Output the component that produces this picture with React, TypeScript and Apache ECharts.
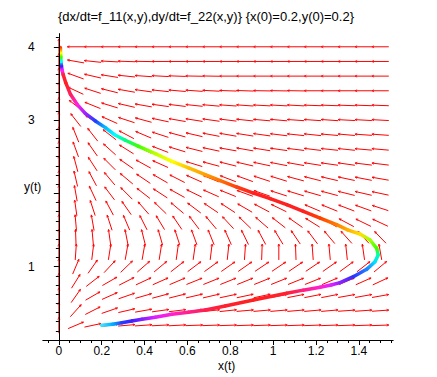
import React, { useEffect, useRef } from "react";
import * as echarts from "echarts";

const titleText = "{dx/dt=f_11(x,y),dy/dt=f_22(x,y)} {x(0)=0.2,y(0)=0.2}";
const xAxisTitle = "x(t)";
const yAxisTitle = "y(t)";

const xMajorTicks = [0, 0.2, 0.4, 0.6, 0.8, 1, 1.2, 1.4];
const yMajorTicks = [1, 2, 3, 4];
const yTickLabels = [1, 3, 4];
const xRange = [-0.075, 1.56];
const yRange = [0, 4.18];
const xMinorStep = 0.05;
const yMinorStep = 0.125;

// direction-field grid
const fieldX = [0, 0.0789, 0.1579, 0.2368, 0.3158, 0.3947, 0.4737, 0.5526, 0.6316, 0.7105, 0.7895, 0.8684, 0.9474, 1.0263, 1.1053, 1.1842, 1.2632, 1.3421, 1.4211, 1.5];
const fieldY = [0.2, 0.4, 0.6, 0.8, 1.0, 1.2, 1.4, 1.6, 1.8, 2.0, 2.2, 2.4, 2.6, 2.8, 3.0, 3.2, 3.4, 3.6, 3.8, 4.0];

// arrow directions (degrees on screen, 0 = right, 90 = up), one list per row of fieldY
const angY02 = [90, 23, 12, 8, 5, 4, 3, 3, 2, 2, 2, 2, 2, 2, 2, 2, 2, 2, 2, 2];
const angY04 = [90, 48, 27, 19, 13, 10, 8, 7, 7, 6, 6, 5, 5, 5, 5, 5, 5, 4, 4, 4];
const angY06 = [90, 55, 30, 24, 19, 16, 15, 14, 13, 13, 12, 12, 12, 11, 11, 11, 11, 10, 10, 10];
const angY08 = [90, 58, 38, 30, 27, 25, 24, 23, 22, 22, 22, 22, 22, 22, 22, 22, 23, 23, 24, 25];
const angY10 = [90, 67, 55, 47, 44, 41, 40, 38, 37, 36, 35, 35, 34, 34, 34, 34, 35, 36, 38, 40];
const angY12 = [90, 86, 83, 81, 80, 80, 81, 82, 82, 83, 84, 86, 88, 90, 92, 94, 95, 96, 98, 100];
const angY14 = [90, 92, 95, 98, 101, 104, 106, 108, 110, 112, 114, 116, 118, 121, 124, 127, 130, 132, 133, 134];
const angY16 = [90, 95, 100, 108, 113, 117, 121, 124, 127, 130, 133, 136, 139, 142, 145, 148, 150, 152, 154, 155];
const angY18 = [90, 98, 108, 118, 125, 131, 136, 140, 143, 146, 147, 150, 152, 154, 156, 157, 158, 159, 160, 162];
const angY20 = [90, 100, 115, 127, 135, 142, 147, 151, 154, 156, 158, 160, 161, 162, 163, 164, 165, 166, 167, 168];
const angY22 = [90, 103, 118, 130, 140, 146, 150, 153, 156, 158, 159, 160, 162, 163, 165, 166, 167, 168, 169, 170];
const angY24 = [90, 105, 123, 135, 145, 151, 156, 160, 163, 165, 166, 167, 168, 169, 170, 171, 172, 172, 173, 173];
const angY26 = [90, 110, 125, 138, 148, 154, 159, 163, 166, 168, 170, 170, 171, 172, 173, 173, 174, 174, 175, 175];
const angY28 = [90, 112, 128, 142, 152, 157, 162, 165, 167, 169, 170, 171, 172, 173, 174, 174, 175, 175, 176, 176];
const angY30 = [90, 128, 148, 156, 162, 165, 168, 170, 171, 172, 173, 174, 175, 175, 176, 176, 176, 177, 177, 177];
const angY32 = [90, 142, 158, 163, 167, 170, 172, 173, 174, 175, 176, 176, 177, 177, 177, 178, 178, 178, 178, 178];
const angY34 = [90, 155, 162, 166, 170, 172, 174, 175, 176, 177, 178, 178, 179, 179, 179, 180, 180, 180, 180, 180];
const angY36 = [90, 160, 167, 171, 174, 176, 177, 178, 179, 179, 180, 180, 180, 180, 180, 180, 180, 180, 180, 180];
const angY38 = [90, 170, 174, 177, 178, 179, 180, 180, 180, 180, 180, 180, 180, 180, 180, 180, 180, 180, 180, 180];
const angY40 = [90, 180, 180, 180, 180, 180, 180, 180, 180, 180, 180, 180, 180, 180, 180, 180, 180, 180, 180, 180];
const fieldRows = [angY02, angY04, angY06, angY08, angY10, angY12, angY14, angY16, angY18, angY20, angY22, angY24, angY26, angY28, angY30, angY32, angY34, angY36, angY38, angY40];

// solution curve from (0.2, 0.2)
const trajX = [0.2, 0.25, 0.294, 0.34, 0.388, 0.45, 0.527, 0.605, 0.683, 0.776, 0.908, 1.063, 1.14, 1.219, 1.27, 1.312, 1.374, 1.436, 1.475, 1.49, 1.483, 1.452, 1.405, 1.35, 1.296, 1.219, 1.141, 1.063, 0.986, 0.908, 0.83, 0.753, 0.683, 0.605, 0.527, 0.45, 0.372, 0.31, 0.26, 0.217, 0.17, 0.123, 0.085, 0.054, 0.032, 0.02, 0.015, 0.012, 0.01, 0.009, 0.008, 0.007];
const trajY = [0.2, 0.215, 0.236, 0.258, 0.282, 0.31, 0.35, 0.38, 0.41, 0.464, 0.546, 0.637, 0.68, 0.719, 0.75, 0.782, 0.864, 0.964, 1.068, 1.16, 1.25, 1.364, 1.446, 1.5, 1.573, 1.664, 1.756, 1.846, 1.928, 2.005, 2.087, 2.173, 2.255, 2.347, 2.438, 2.542, 2.642, 2.725, 2.8, 2.897, 2.988, 3.092, 3.215, 3.352, 3.51, 3.62, 3.68, 3.74, 3.8, 3.86, 3.92, 3.99];
const trajColor = ["#40e0ff", "#00b0ff", "#2040ff", "#4020ff", "#8020ff", "#e020ff", "#ff20d0", "#ff2090", "#ff2050", "#ff2030", "#ff2020", "#ff2030", "#ff2080", "#ff20d0", "#e020ff", "#9020ff", "#3030ff", "#2080ff", "#00e0ff", "#00ffb0", "#40ff00", "#a0ff00", "#ffe000", "#ffb000", "#ff8000", "#ff4000", "#ff2020", "#ff2020", "#ff2020", "#ff2020", "#ff4010", "#ff7000", "#ffa000", "#ffc000", "#ffff00", "#c0ff00", "#40ff00", "#00ff80", "#00ffff", "#00c0ff", "#2040ff", "#a020ff", "#ff20e0", "#ff2060", "#ff2020", "#ff2040", "#ff20ff", "#4020ff", "#00ffff", "#40ff00", "#ffff00", "#ff4000"];

const FONT = "'Liberation Sans', Arial, Helvetica, sans-serif";

function stepValues(lo: number, hi: number, step: number, skip: number[]) {
  const out: number[] = [];
  const n0 = Math.ceil(lo / step - 1e-9);
  const n1 = Math.floor(hi / step + 1e-9);
  for (let n = n0; n <= n1; n++) {
    const v = +(n * step).toFixed(6);
    if (!skip.some((s) => Math.abs(s - v) < 1e-6)) out.push(v);
  }
  return out;
}

export default function App() {
  const ref = useRef<HTMLDivElement>(null);
  useEffect(() => {
    document.body.style.margin = "0";
    const chart = echarts.init(ref.current!, null, { renderer: "svg" });

    const arrowData: number[][] = [];
    fieldRows.forEach((row, j) =>
      row.forEach((ang, i) => arrowData.push([fieldX[i], fieldY[j], ang]))
    );
    const xStep = fieldX[1] - fieldX[0];
    const yStep = fieldY[1] - fieldY[0];

    const trajData: number[][] = [];
    for (let i = 0; i < trajX.length - 1; i++) {
      trajData.push([trajX[i], trajY[i], trajX[i + 1], trajY[i + 1], i]);
    }

    const xMinor = stepValues(xRange[0], xRange[1], xMinorStep, xMajorTicks.concat([0]));
    const yMinor = stepValues(0.0001, yRange[1], yMinorStep, yMajorTicks);

    const red = "#ff0000";

    const option: any = {
      animation: false,
      backgroundColor: "#ffffff",
      grid: { left: 42.8, top: 33.6, width: 350.4, height: 306.4, containLabel: false },
      xAxis: [
        {
          type: "value",
          min: xRange[0],
          max: xRange[1],
          position: "bottom",
          z: 5,
          axisLine: { show: true, onZero: true, lineStyle: { color: "#000", width: 1 } },
          axisTick: { show: true, customValues: xMajorTicks, length: 5, lineStyle: { color: "#000" } },
          axisLabel: { show: true, customValues: xMajorTicks, color: "#000", fontSize: 12, fontFamily: FONT, margin: 5 },
          splitLine: { show: false },
        },
        {
          type: "value",
          min: xRange[0],
          max: xRange[1],
          position: "bottom",
          z: 5,
          axisLine: { show: false, onZero: true },
          axisTick: { show: true, customValues: xMinor, length: 3, lineStyle: { color: "#000" } },
          axisLabel: { show: false },
          splitLine: { show: false },
        },
      ],
      yAxis: [
        {
          type: "value",
          min: yRange[0],
          max: yRange[1],
          position: "left",
          z: 5,
          axisLine: { show: true, onZero: true, lineStyle: { color: "#000", width: 1 } },
          axisTick: { show: true, customValues: yMajorTicks, length: 5, lineStyle: { color: "#000" } },
          axisLabel: { show: true, customValues: yTickLabels, color: "#000", fontSize: 12, fontFamily: FONT, margin: 8 },
          splitLine: { show: false },
        },
        {
          type: "value",
          min: yRange[0],
          max: yRange[1],
          position: "left",
          z: 5,
          axisLine: { show: false, onZero: true },
          axisTick: { show: true, customValues: yMinor, length: 3, lineStyle: { color: "#000" } },
          axisLabel: { show: false },
          splitLine: { show: false },
        },
      ],
      graphic: [
        { type: "text", left: 58, top: 10, style: { text: titleText, fill: "#000", font: `13px ${FONT}` } },
        { type: "text", left: 218, top: 360, style: { text: xAxisTitle, fill: "#000", font: `12px ${FONT}` } },
        { type: "text", left: 24, top: 181, style: { text: yAxisTitle, fill: "#000", font: `12px ${FONT}` } },
      ],
      series: [
        {
          type: "custom",
          xAxisIndex: 0,
          yAxisIndex: 0,
          z: 1,
          silent: true,
          clip: false,
          data: arrowData,
          renderItem: (params: any, api: any) => {
            const p = api.coord([api.value(0), api.value(1)]);
            const cell = api.size([xStep, yStep]);
            const a = (api.value(2) * Math.PI) / 180;
            const c = Math.cos(a);
            const s = Math.sin(a);
            const L = 1 / Math.sqrt((c / cell[0]) ** 2 + (s / (cell[1] * 1.08)) ** 2);
            const h = L / 2;
            const tail = [p[0] - c * h, p[1] + s * h];
            const head = [p[0] + c * h, p[1] - s * h];
            const bx = -c;
            const by = s;
            const phi = (25 * Math.PI) / 180;
            const bl = 2.4;
            const b1 = [head[0] + bl * (bx * Math.cos(phi) - by * Math.sin(phi)), head[1] + bl * (bx * Math.sin(phi) + by * Math.cos(phi))];
            const b2 = [head[0] + bl * (bx * Math.cos(-phi) - by * Math.sin(-phi)), head[1] + bl * (bx * Math.sin(-phi) + by * Math.cos(-phi))];
            return {
              type: "group",
              children: [
                { type: "polyline", shape: { points: [tail, head] }, style: { stroke: red, lineWidth: 1, fill: null } },
                { type: "polyline", shape: { points: [b1, head, b2] }, style: { stroke: red, lineWidth: 0.8, fill: null } },
              ],
            };
          },
        },
        {
          type: "custom",
          xAxisIndex: 0,
          yAxisIndex: 0,
          z: 3,
          silent: true,
          clip: false,
          data: trajData,
          renderItem: (params: any, api: any) => {
            const i = api.value(4);
            const p1 = api.coord([api.value(0), api.value(1)]);
            const p2 = api.coord([api.value(2), api.value(3)]);
            const grad = new echarts.graphic.LinearGradient(
              p1[0], p1[1], p2[0], p2[1],
              [
                { offset: 0, color: trajColor[i] },
                { offset: 1, color: trajColor[i + 1] },
              ],
              true
            );
            return {
              type: "line",
              shape: { x1: p1[0], y1: p1[1], x2: p2[0], y2: p2[1] },
              style: { stroke: grad, lineWidth: 3.5, lineCap: "round" },
            };
          },
        },
      ],
    };
    chart.setOption(option);
    return () => chart.dispose();
  }, []);
  return <div ref={ref} style={{ width: 437, height: 377 }} />;
}
